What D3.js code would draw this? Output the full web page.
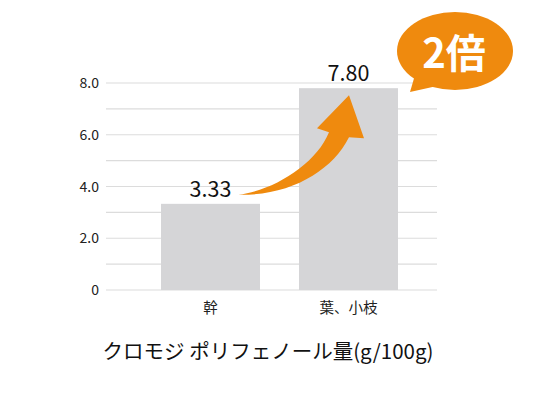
<!DOCTYPE html>
<html><head><meta charset="utf-8">
<script src="https://cdn.jsdelivr.net/npm/d3@7/dist/d3.min.js"></script>
<style>html,body{margin:0;padding:0;background:#fff;}svg{display:block;}</style>
</head><body>
<script>
const categories = ["幹", "葉、小枝"];
const values = [3.33, 7.80];
const valueLabels = ["3.33", "7.80"];
const yTicks = [0, 2, 4, 6, 8];
const yTickLabels = ["0", "2.0", "4.0", "6.0", "8.0"];
const gridValues = [0, 1, 2, 3, 4, 5, 6, 7, 8];
const title = "クロモジ ポリフェノール量(g/100g)";
const badge = "2倍";

const W = 536, H = 403;
const font = "'Noto Sans CJK JP','Noto Sans',sans-serif";
const orange = "#ef8a0e";
const svg = d3.select("body").append("svg").attr("width", W).attr("height", H);

const y = d3.scaleLinear().domain([0, 8]).range([290, 83]);
const x = d3.scaleBand().domain(categories).range([161, 398]).paddingInner(0.2826).paddingOuter(0);
const gx0 = 106, gx1 = 437;

svg.append("g").selectAll("line").data(gridValues).join("line")
  .attr("x1", gx0).attr("x2", gx1)
  .attr("y1", d => y(d)).attr("y2", d => y(d))
  .attr("stroke", "#dcdcdc").attr("stroke-width", 1.2);

svg.append("g").selectAll("text").data(yTicks).join("text")
  .attr("x", 99).attr("y", d => y(d)).attr("dy", "0.36em")
  .attr("text-anchor", "end").attr("font-family", font).attr("font-size", 14)
  .attr("fill", "#222").text((d, i) => yTickLabels[i]);

svg.append("g").selectAll("rect").data(values).join("rect")
  .attr("x", (d, i) => x(categories[i])).attr("width", x.bandwidth())
  .attr("y", d => y(d)).attr("height", d => y(0) - y(d))
  .attr("fill", "#d5d5d7");

svg.append("g").selectAll("text").data(values).join("text")
  .attr("x", (d, i) => x(categories[i]) + x.bandwidth() / 2)
  .attr("y", d => y(d) - 7)
  .attr("text-anchor", "middle").attr("font-family", font).attr("font-size", 21.5)
  .attr("fill", "#111").text((d, i) => valueLabels[i]);

svg.append("g").selectAll("text").data(categories).join("text")
  .attr("x", d => x(d) + x.bandwidth() / 2).attr("y", 313)
  .attr("text-anchor", "middle").attr("font-family", font).attr("font-size", 14.5)
  .attr("fill", "#222").text(d => d);

svg.append("text").attr("x", 268).attr("y", 359)
  .attr("text-anchor", "middle").attr("font-family", font).attr("font-size", 20.5)
  .attr("fill", "#111").text(title);

// curved arrow from bar 1 label to bar 2 label
const S = [x(categories[0]) + x.bandwidth() * 0.78, y(values[0]) - 9];
const T = [x(categories[1]) + x.bandwidth() / 2 + 0.5, y(values[1]) + 7];
const p = (a, dx, dy) => [a[0] + dx, a[1] + dy];
const hl = p(T, -32, 33), nu = p(T, -20, 37), nl = p(T, 0, 42), hr = p(T, 15, 43);
const path = d3.path();
path.moveTo(...S);
path.bezierCurveTo(S[0] + 52, S[1] + 1, S[0] + 94, S[1] - 24, ...nl);
path.lineTo(...hr);
path.lineTo(...T);
path.lineTo(...hl);
path.lineTo(...nu);
path.bezierCurveTo(nu[0] - 13, nu[1] + 32, nu[0] - 55, nu[1] + 58, ...S);
path.closePath();
svg.append("path").attr("d", path.toString()).attr("fill", orange);

// speech bubble
const bc = [455, 51];
svg.append("ellipse").attr("cx", bc[0]).attr("cy", bc[1]).attr("rx", 58).attr("ry", 39).attr("fill", orange);
svg.append("path").attr("d", `M${bc[0]-40},${bc[1]+24} L${bc[0]-45},${bc[1]+41} L${bc[0]-18},${bc[1]+35} Z`).attr("fill", orange);
svg.append("text").attr("x", bc[0] - 1).attr("y", bc[1] + 17)
  .attr("text-anchor", "middle").attr("font-family", font).attr("font-weight", "bold")
  .attr("font-size", 40).attr("fill", "#fff").text(badge);
</script>
</body></html>
